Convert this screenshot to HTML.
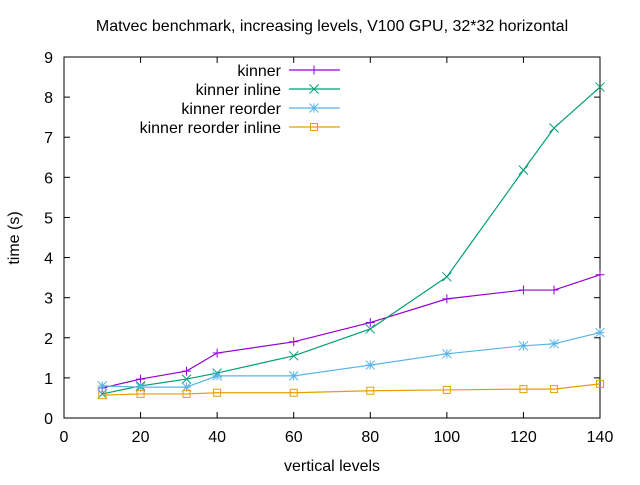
<!DOCTYPE html>
<html><head><meta charset="utf-8"><style>
body{margin:0;background:#fff;}
svg text{font-family:"Liberation Sans",sans-serif;font-size:16px;fill:#000;}
</style></head><body>
<svg id="chart" width="640" height="480" viewBox="0 0 640 480">
<text x="332" y="31" text-anchor="middle">Matvec benchmark, increasing levels, V100 GPU, 32*32 horizontal</text>
<text x="332" y="471" text-anchor="middle">vertical levels</text>
<text transform="translate(19,238) rotate(-90)" text-anchor="middle">time (s)</text>
<g id="axes"></g><g id="series"></g><g id="legend"></g>
</svg>
<script>
const xLevels=[10,20,32,40,60,80,100,120,128,140];
const kinner=[0.75,0.97,1.17,1.62,1.9,2.38,2.97,3.19,3.19,3.57];
const kinnerInline=[0.6,0.8,0.97,1.12,1.55,2.22,3.52,6.18,7.23,8.25];
const kinnerReorder=[0.8,0.77,0.77,1.05,1.05,1.32,1.6,1.8,1.85,2.13];
const kinnerReorderInline=[0.57,0.6,0.6,0.63,0.63,0.68,0.7,0.72,0.72,0.85];
const xTicks=[0,20,40,60,80,100,120,140];
const yTicks=[0,1,2,3,4,5,6,7,8,9];
const seriesNames=["kinner","kinner inline","kinner reorder","kinner reorder inline"];
const L=64,R=600,T=57,B=418;
const sx=v=>L+(v-0)/140*(R-L), sy=v=>B-v/9*(B-T);
const NS="http://www.w3.org/2000/svg";
function mk(tag,attrs,parent){const e=document.createElementNS(NS,tag);for(const k in attrs)e.setAttribute(k,attrs[k]);parent.appendChild(e);return e;}
const ax=document.getElementById('axes');
const frame=mk('rect',{x:L,y:T,width:R-L,height:B-T,fill:'none',stroke:'#000','stroke-width':1},ax);


xTicks.forEach(t=>{const x=sx(t);
 mk('line',{x1:x,y1:B,x2:x,y2:B-6,stroke:'#000'},ax);mk('line',{x1:x,y1:T,x2:x,y2:T+6,stroke:'#000'},ax);
 const tx=mk('text',{x:x,y:B+24,'text-anchor':'middle'},ax);tx.textContent=t;
 
 });
yTicks.forEach(t=>{const y=sy(t);
 mk('line',{x1:L,y1:y,x2:L+6,y2:y,stroke:'#000'},ax);mk('line',{x1:R,y1:y,x2:R-6,y2:y,stroke:'#000'},ax);
 const tx=mk('text',{x:L-11,y:y+6,'text-anchor':'end'},ax);tx.textContent=t;
 
 });
const colors=['#9400d3','#009e73','#56b4e9','#e69f00'];
const data=[kinner,kinnerInline,kinnerReorder,kinnerReorderInline];
function marker(i,x,y,g){const s=4.5,c=colors[i];
 if(i===0){mk('path',{d:`M${x-s} ${y}H${x+s}M${x} ${y-s}V${y+s}`,stroke:c,fill:'none'},g);}
 else if(i===1){mk('path',{d:`M${x-s} ${y-s}L${x+s} ${y+s}M${x-s} ${y+s}L${x+s} ${y-s}`,stroke:c,fill:'none'},g);}
 else if(i===2){mk('path',{d:`M${x-s} ${y}H${x+s}M${x} ${y-s}V${y+s}M${x-s} ${y-s}L${x+s} ${y+s}M${x-s} ${y+s}L${x+s} ${y-s}`,stroke:c,fill:'none'},g);}
 else {mk('rect',{x:x-3.5,y:y-3.5,width:7,height:7,stroke:c,fill:'none'},g);}}
const sg=document.getElementById('series');
const lg=document.getElementById('legend');
data.forEach((d,i)=>{
 const g=mk('g',{},sg);
 
 
 mk('polyline',{points:d.map((v,j)=>sx(xLevels[j])+','+sy(v)).join(' '),fill:'none',stroke:colors[i],'stroke-width':1.2},g);
 d.forEach((v,j)=>marker(i,sx(xLevels[j]),sy(v),g));
 const ly=70+i*19;
 const le=mk('g',{},lg);
 
 
 const t=mk('text',{x:281,y:ly+6,'text-anchor':'end'},le);t.textContent=seriesNames[i];
 mk('line',{x1:289,y1:ly,x2:340,y2:ly,stroke:colors[i],'stroke-width':1.2},le);
 marker(i,314,ly,le);
});
</script>
</body></html>
